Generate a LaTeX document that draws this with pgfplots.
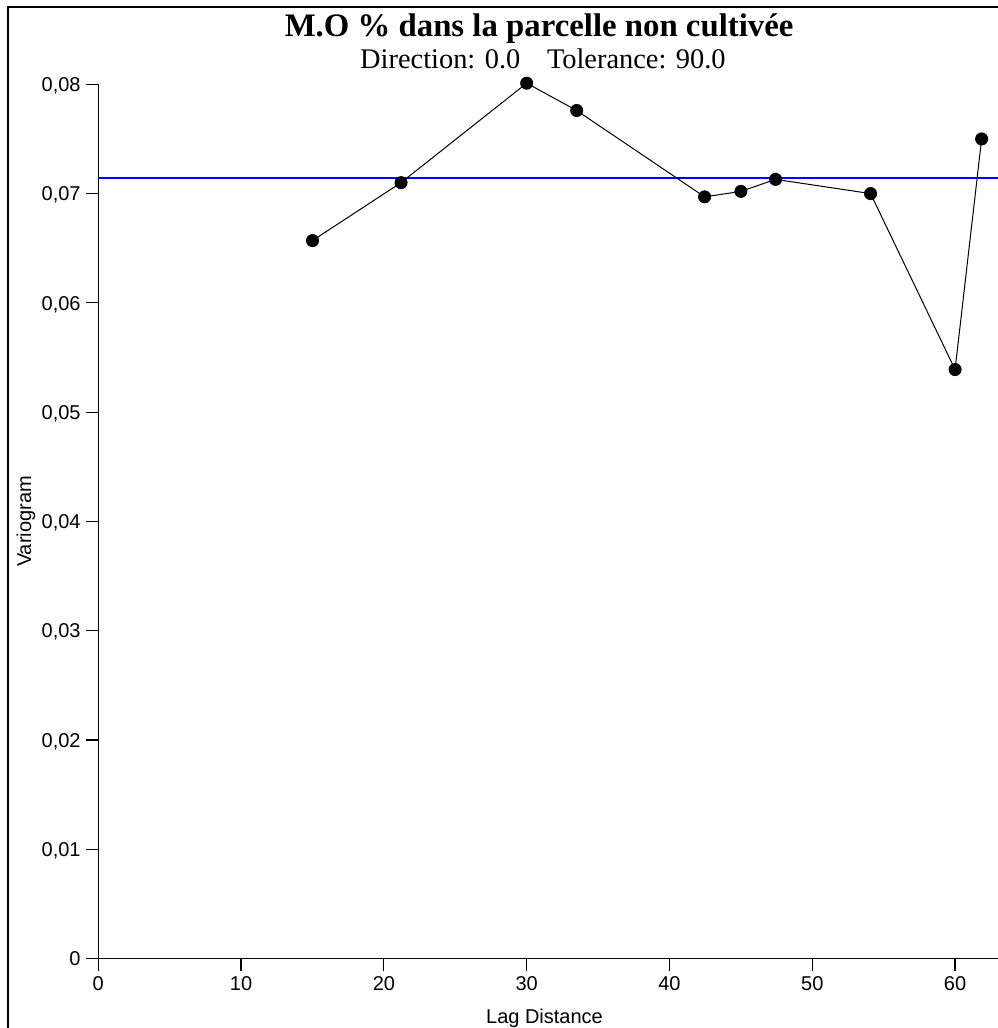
\documentclass[border=0pt]{standalone}
\usepackage{pgfplots}
\pgfplotsset{compat=1.18}
\usepackage{fontspec}
\setmainfont{Liberation Serif}
\newfontfamily\arial{Liberation Sans}
\definecolor{refblue}{RGB}{0,0,255}

\begin{document}
\begin{tikzpicture}
\begin{axis}[
  scale only axis,
  width=449.8pt, height=437.2pt,
  xmin=0, xmax=63, ymin=0, ymax=0.08,
  axis x line=bottom, axis y line=left,
  axis line style={-, line width=0.6pt},
  xtick={0,10,20,30,40,50,60},
  ytick={0,0.01,0.02,0.03,0.04,0.05,0.06,0.07,0.08},
  tick align=outside,
  major tick length=6pt,
  tick style={black, line width=0.6pt},
  scaled y ticks=false,
  clip=false,
  tick label style={font=\arial\fontsize{10}{12}\selectfont},
  xticklabel style={anchor=base, yshift=-9.65pt, inner sep=0pt, /pgf/number format/assume math mode=true},
  yticklabel style={anchor=base east, xshift=-2.65pt, yshift=-3.6pt, inner sep=0pt,
    /pgf/number format/.cd, fixed, precision=2, use comma, assume math mode=true},
]
\addplot[draw=refblue, line width=0.8pt, mark=none, forget plot] coordinates {(0,0.07145) (63,0.07145)};
\addplot[black, line width=0.5pt, mark=*, mark size=3pt, mark options={fill=black}] coordinates {
  (15.0,0.0657) (21.2,0.0710) (30.0,0.0801) (33.5,0.0776) (42.46,0.0697)
  (45.0,0.0702) (47.43,0.0713) (54.08,0.0700) (60.0,0.0539) (61.86,0.0750)
};
\coordinate (SW) at (rel axis cs:0,0);
\coordinate (NE) at (rel axis cs:1,1);
\node[font=\bfseries\fontsize{16.4}{18}\selectfont, anchor=base, inner sep=0pt] at ([yshift=23.8pt]rel axis cs:0.490,1) {M.O \% dans la parcelle non cultivée};
\node[font=\fontsize{14.2}{16}\selectfont, anchor=base, inner sep=0pt] at ([yshift=8pt]rel axis cs:0.4942,1) {Direction: 0.0\hspace{13.35pt}Tolerance: 90.0};
\node[font=\arial\fontsize{10}{12}\selectfont, anchor=base, inner sep=0pt] at ([yshift=-32.15pt]rel axis cs:0.496,0) {Lag Distance};
\node[font=\arial\fontsize{10}{12}\selectfont, anchor=base, inner sep=0pt, rotate=90] at ([xshift=-33.6pt]rel axis cs:0,0.5) {Variogram};
\end{axis}
\pgfresetboundingbox
\path[use as bounding box] ([shift={(-49.15pt,-34.65pt)}]SW) rectangle ([shift={(0pt,42.15pt)}]NE);
\draw[line width=1.1pt] ([shift={(-45pt,-60pt)}]SW) |- ([shift={(20pt,38.8pt)}]NE);
\end{tikzpicture}
\end{document}
